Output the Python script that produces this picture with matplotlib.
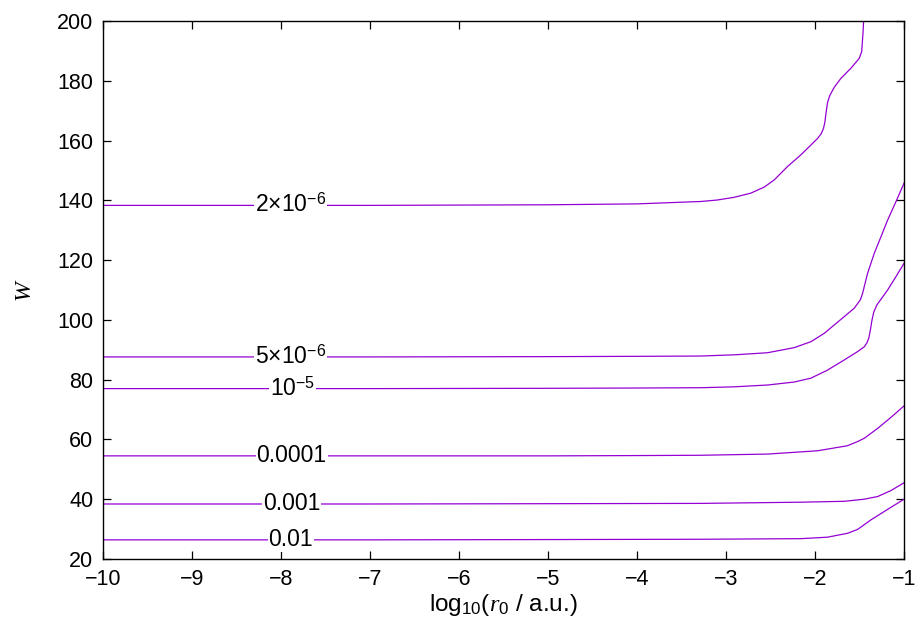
import numpy as np
import matplotlib
matplotlib.use('Agg')
import matplotlib.pyplot as plt

plt.rcParams['font.family'] = ['Liberation Sans', 'DejaVu Sans']
plt.rcParams['mathtext.fontset'] = 'custom'
plt.rcParams['mathtext.rm'] = 'Liberation Sans'
plt.rcParams['mathtext.it'] = 'Liberation Serif:italic'
plt.rcParams['mathtext.bf'] = 'Liberation Sans:bold'

# contour lines: x = log10(r0 / a.u.), y = W
c2e6_x = [-10, -7, -5, -4, -3.284, -3.096, -2.909, -2.721, -2.572, -2.459, -2.309, -2.159,
          -1.971, -1.930, -1.905, -1.889, -1.875, -1.860, -1.835, -1.784, -1.709, -1.596,
          -1.503, -1.476, -1.461, -1.454]
c2e6_y = [138.3, 138.3, 138.5, 138.8, 139.6, 140.1, 141.0, 142.4, 144.4, 146.8, 151.3, 155.2,
          160.7, 162.3, 164.0, 166.2, 169.5, 172.6, 175.0, 177.8, 180.8, 184.2,
          187.5, 189.7, 195.9, 200.0]

c5e6_x = [-10, -7, -5, -4, -3.284, -2.909, -2.534, -2.234, -2.046, -1.896, -1.784, -1.671,
          -1.559, -1.491, -1.465, -1.447, -1.409, -1.334, -1.259, -1.184, -1.090, -1.0]
c5e6_y = [87.6, 87.6, 87.7, 87.8, 87.9, 88.3, 89.0, 90.7, 92.7, 95.5, 98.3, 101.1,
          103.9, 106.7, 108.9, 111.1, 115.6, 122.3, 127.8, 133.4, 139.6, 145.7]

c1e5_x = [-10, -7, -5, -4, -3.284, -2.909, -2.534, -2.234, -2.046, -1.859, -1.671, -1.521,
          -1.446, -1.415, -1.395, -1.378, -1.362, -1.340, -1.305, -1.259, -1.184, -1.090, -1.0]
c1e5_y = [77.0, 77.0, 77.1, 77.2, 77.3, 77.6, 78.2, 79.2, 80.5, 83.2, 86.6, 89.4,
          91.0, 92.4, 94.0, 96.6, 99.6, 102.6, 105.0, 106.9, 110.0, 114.5, 118.9]

c1e4_x = [-10, -7, -5, -4, -3.284, -2.534, -1.971, -1.634, -1.521, -1.446, -1.296, -1.146, -1.0]
c1e4_y = [54.5, 54.5, 54.5, 54.6, 54.7, 55.1, 56.2, 57.9, 59.3, 60.4, 63.7, 67.4, 71.2]

c1e3_x = [-10, -7, -5, -3.284, -2.159, -1.671, -1.446, -1.296, -1.146, -1.0]
c1e3_y = [38.4, 38.4, 38.5, 38.6, 39.0, 39.3, 40.0, 40.9, 42.9, 45.5]

c1e2_x = [-10, -7, -5, -3.284, -2.159, -1.859, -1.634, -1.521, -1.371, -1.184, -1.0]
c1e2_y = [26.4, 26.4, 26.5, 26.6, 26.8, 27.3, 28.6, 29.9, 33.1, 36.6, 40.0]

labels = [r'$2{\times}10^{-6}$', r'$5{\times}10^{-6}$', r'$10^{-5}$', '0.0001', '0.001', '0.01']
label_x = [-7.89, -7.89, -7.87, -7.88, -7.88, -7.89]

curves = [(c2e6_x, c2e6_y), (c5e6_x, c5e6_y), (c1e5_x, c1e5_y),
          (c1e4_x, c1e4_y), (c1e3_x, c1e3_y), (c1e2_x, c1e2_y)]

color = '#9400d3'

fig = plt.figure(figsize=(9.22, 6.35), dpi=100)
ax = fig.add_axes([0.1117, 0.1197, 0.8688, 0.8473])

for (xs, ys), lab, lx in zip(curves, labels, label_x):
    ax.plot(xs, ys, color=color, lw=0.9, zorder=2)
    ly = np.interp(lx, xs, ys)
    ax.text(lx, ly, lab, fontsize=16.5, ha='center', va='center', zorder=3,
            bbox=dict(facecolor='white', edgecolor='none', pad=0.6))

ax.set_xlim(-10, -1)
ax.set_ylim(20, 200)
ax.set_xticks(range(-10, 0))
ax.set_yticks(range(20, 201, 20))
ax.tick_params(direction='in', top=True, right=True, length=6, width=0.9,
               labelsize=15.5, pad=7)
for s in ax.spines.values():
    s.set_linewidth(1.0)

ax.set_xlabel(r'log$_{10}$($\mathit{r}_{\mathit{0}}$ / a.u.)', fontsize=17.5, labelpad=2)
ax.set_ylabel('W', fontsize=17, family='Liberation Serif', style='italic', labelpad=16)

fig.savefig('out.png', dpi=100)
